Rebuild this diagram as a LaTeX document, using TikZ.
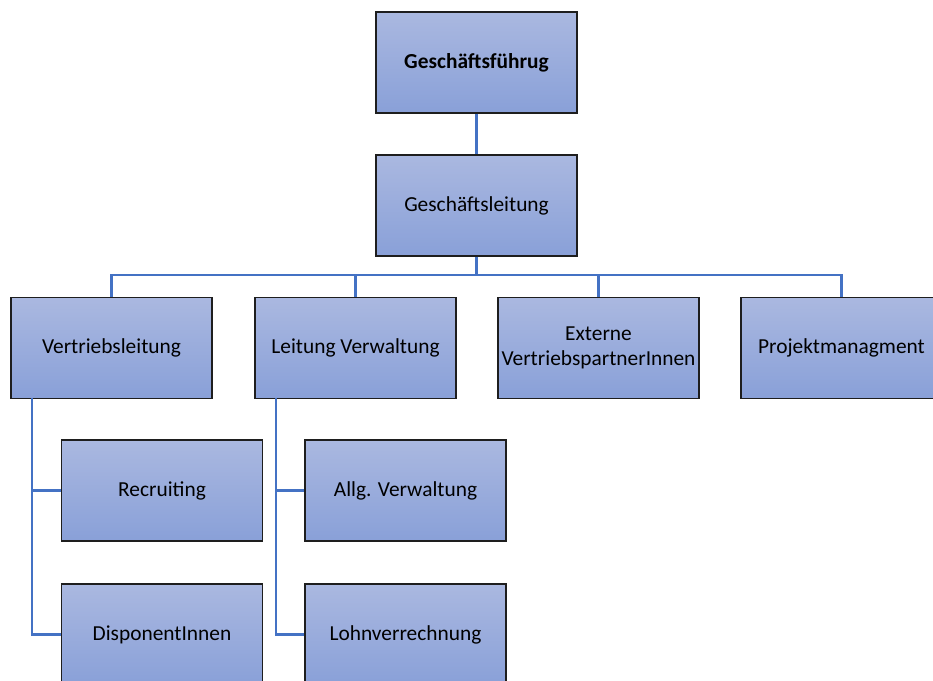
\documentclass[tikz,border=0pt]{standalone}
\usepackage{fontspec}
\setmainfont{Carlito}
\usetikzlibrary{positioning}
\definecolor{boxtop}{RGB}{170,184,224}
\definecolor{boxbot}{RGB}{137,160,216}
\definecolor{boxline}{RGB}{30,30,30}
\definecolor{linkblue}{RGB}{68,114,196}
\tikzset{
  orgbox/.style={rectangle, draw=boxline, top color=boxtop, bottom color=boxbot,
    minimum width=5.025cm, minimum height=2.525cm, align=center,
    font=\fontsize{15.2}{17.5}\selectfont, line width=0.8pt, inner sep=2pt},
  link/.style={line width=1.8pt, color=linkblue}
}

\begin{document}
\begin{tikzpicture}[x=0.025cm, y=-0.025cm]
  \useasboundingbox (0,0) rectangle (933,680);
  \clip (0,0) rectangle (933,680);

  % Top levels
  \node[orgbox] (gf) at (476.5,62.5) {\textbf{Geschäftsführug}};
  \node[orgbox] (gl) at (476.5,205.5) {Geschäftsleitung};

  % Second level
  \node[orgbox] (vl) at (111.5,348) {Vertriebsleitung};
  \node[orgbox] (lv) at (355.5,348) {Leitung Verwaltung};
  \node[orgbox] (ev) at (598.5,348) {Externe\\VertriebspartnerInnen};
  \node[orgbox] (pm) at (841.5,348) {Projektmanagment};

  % Third level
  \node[orgbox] (rec) at (162,490.5) {Recruiting};
  \node[orgbox] (dis) at (162,634.5) {DisponentInnen};
  \node[orgbox] (allg) at (405.5,490.5) {Allg. Verwaltung};
  \node[orgbox] (lohn) at (405.5,634.5) {Lohnverrechnung};

  % Branch points
  \coordinate (bus) at (476.5,275);
  \coordinate (vtrunk) at (32,398);
  \coordinate (ltrunk) at (276,398);

  % Connections
  \draw[link] (gf.south) -- (gl.north);
  \draw[link] (gl.south) -- (bus) -| (vl.north);
  \draw[link] (bus) -| (lv.north);
  \draw[link] (bus) -| (ev.north);
  \draw[link] (bus) -| (pm.north);
  \draw[link] (vtrunk) |- (rec.west);
  \draw[link] (vtrunk) |- (dis.west);
  \draw[link] (ltrunk) |- (allg.west);
  \draw[link] (ltrunk) |- (lohn.west);
\end{tikzpicture}
\end{document}
